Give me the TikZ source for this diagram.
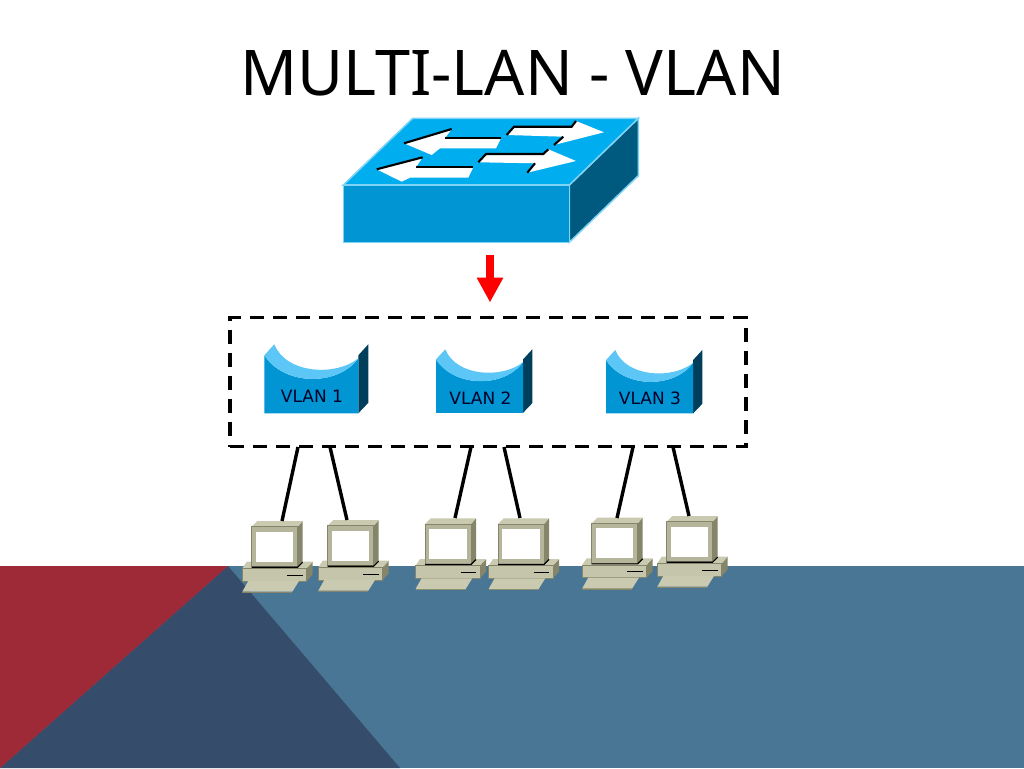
\documentclass[tikz,border=0pt]{standalone}
\usepackage{fontspec}
\setmainfont{Noto Sans}
\newfontfamily\labelfont{DejaVu Sans}
\usetikzlibrary{arrows.meta}
\definecolor{bandblue}{HTML}{4A7696}
\definecolor{banddark}{HTML}{364C6B}
\definecolor{bandred}{HTML}{9E2A38}
\definecolor{swtop}{HTML}{00ADEF}
\definecolor{swfront}{HTML}{0295D3}
\definecolor{swside}{HTML}{005A80}
\definecolor{swedge}{HTML}{7FD4F5}
\definecolor{vlside}{HTML}{003F5C}
\definecolor{vllight}{HTML}{5CC6F7}
\definecolor{pcfront}{HTML}{B5B59B}
\definecolor{pctop}{HTML}{CACAB0}
\definecolor{pcside}{HTML}{85856A}
\definecolor{pcbase}{HTML}{C5C5AC}
\definecolor{pcline}{HTML}{85856A}
\tikzset{
  swarrow/.style={fill=white},
  swshadow/.style={draw=black,line width=2.1pt},
  cable/.style={draw=black,line width=3.4pt},
  vlanlabel/.style={font=\labelfont\fontsize{17}{19}\selectfont,text=black!85!blue},
  pics/computer/.style={code={
    %% base
    \fill[pcside] (55,41.6) -- (61,35) -- (61,47.6) -- (55,54.3) -- cycle;
    \fill[pctop] (-9.4,41.6) -- (-5,35) -- (61,35) -- (55,41.6) -- cycle;
    \fill[pcbase,draw=pcline,line width=0.7pt] (-9.4,41.6) rectangle (55,54.3);
    \draw[black,line width=1pt] (35.6,48.3) -- (51,48.3);
    %% keyboard
    \fill[pcline] (-9.4,65) -- (40.6,65) -- (40.6,66.3) -- (-9.4,66.3) -- cycle;
    \fill[pctop] (-9.4,65) -- (-3.4,54.3) -- (47.3,54.3) -- (40.6,65) -- cycle;
    %% monitor
    \fill[pcside] (46,0) -- (51,-5.7) -- (51,35) -- (46,40) -- cycle;
    \fill[pctop] (0,0) -- (5.7,-5.7) -- (51,-5.7) -- (46,0) -- cycle;
    \fill[pcfront,draw=pcline,line width=0.7pt] (0,0) rectangle (46,40);
    \fill[white] (4.3,5) rectangle (41.6,35);
    \draw[black,line width=1.1pt] (0,40.5) -- (46,40.5) -- (51,35.5);
  }},
  pics/vlandev/.style={code={
    \fill[vlside] (94,11) -- (104,0) -- (104,58.5) -- (94,69) -- cycle;
    \fill[swfront] (0,11) .. controls (20,42) and (74,42) .. (94,14) -- (94,69) -- (0,69) -- cycle;
    \fill[vllight] (0,11) -- (10,0) .. controls (22,30) and (72,32) .. (94,14)
      .. controls (74,42) and (20,42) .. (0,11) -- cycle;
  }}
}
\begin{document}
\begin{tikzpicture}[x=1pt,y=-1pt]
\useasboundingbox (0,0) rectangle (1024,768);
%% background band
\fill[white] (0,0) rectangle (1024,768);
\fill[bandblue] (0,566) rectangle (1024,768);
\fill[banddark] (228,566) -- (400,768) -- (0,768) -- cycle;
\fill[bandred] (0,566) -- (228,566) -- (0,768) -- cycle;
%% title
\node[font=\fontsize{63}{73}\selectfont,text=black] (title) at (512.5,73) {MULTI-LAN - VLAN};
%% switch
\fill[swside,draw=swedge,line width=1.5pt] (569.3,185) -- (638.3,118.3) -- (638.3,175.7) -- (569.3,242.3) -- cycle;
\fill[swtop,draw=swedge,line width=1.5pt] (343.3,185) -- (412.7,118.3) -- (638.3,118.3) -- (569.3,185) -- cycle;
\fill[swfront,draw=swedge,line width=1.5pt] (343.3,185) rectangle (569.3,242.3);
%% arrows on the switch
\fill[swarrow] (404,143.3) -- (451.7,129) -- (445,138.3) -- (500.7,139) -- (496,148.3) -- (440,148.3) -- (431.7,155) -- cycle;
\draw[swshadow] (404,143.3) -- (451.7,129);
\draw[swshadow] (445,138.3) -- (500.7,138.3);
\fill[swarrow] (604,132.3) -- (576,121) -- (571.7,126.7) -- (514,126.7) -- (506.7,135) -- (563.3,136.7) -- (554,145) -- cycle;
\draw[swshadow] (506.7,135) -- (514,126.7) -- (571.7,126.7) -- (576,121);
\draw[swshadow] (554,145) -- (563.3,136.7);
\fill[swarrow] (376.7,169.3) -- (422.7,157.3) -- (416,167.3) -- (473.3,167.3) -- (468.3,177.7) -- (410,177.7) -- (401.7,181.7) -- cycle;
\draw[swshadow] (376.7,169.3) -- (422.7,157.3);
\draw[swshadow] (416,167.3) -- (473.3,167.3);
\fill[swarrow] (576,161) -- (548.3,149.3) -- (543.3,154) -- (486,154) -- (478.3,162.3) -- (535,163.3) -- (527.3,172.7) -- cycle;
\draw[swshadow] (478.3,162.3) -- (486,154) -- (543.3,154) -- (548.3,149.3);
\draw[swshadow] (527.3,172.7) -- (535,163.3);
%% dashed box
\node[draw=black,line width=3.2pt,dash pattern=on 14pt off 9pt,minimum width=516pt,minimum height=129pt,inner sep=0pt] (vlanbox) at (488,382) {};
%% red arrow
\coordinate (redstart) at (490,255);
\coordinate (redend) at (490,302.5);
\draw[red,line width=8pt,-{Triangle[length=25pt,width=25pt]}] (redstart) -- (redend);
%% vlans
\pic (vlana) at (264.3,344.3) {vlandev};
\pic[xscale=0.926,yscale=0.92] (vlanb) at (436,349.3) {vlandev};
\pic[xscale=0.926,yscale=0.92] (vlanc) at (606,350) {vlandev};
\node[vlanlabel] (vlanatext) at (312,396) {VLAN 1};
\node[vlanlabel] (vlanbtext) at (480.5,398) {VLAN 2};
\node[vlanlabel] (vlanctext) at (650,398) {VLAN 3};
%% computers
\pic (pca) at (251.7,526.7) {computer};
\pic (pcb) at (327.7,525.7) {computer};
\pic (pcc) at (425,524) {computer};
\pic (pcd) at (498,524) {computer};
\pic (pce) at (591.7,523.3) {computer};
\pic (pcf) at (666.7,521.7) {computer};
%% cables
\coordinate (boxa) at (298,447);
\coordinate (boxb) at (330,447);
\coordinate (boxc) at (471,447);
\coordinate (boxd) at (504,447);
\coordinate (boxe) at (633,447);
\coordinate (boxf) at (673,447);
\coordinate (topa) at (282,521);
\coordinate (topb) at (347,520);
\coordinate (topc) at (455,518);
\coordinate (topd) at (520,518);
\coordinate (tope) at (617,518);
\coordinate (topf) at (689,516);
\draw[cable] (boxa) -- (topa);
\draw[cable] (boxb) -- (topb);
\draw[cable] (boxc) -- (topc);
\draw[cable] (boxd) -- (topd);
\draw[cable] (boxe) -- (tope);
\draw[cable] (boxf) -- (topf);
\end{tikzpicture}
\end{document}
